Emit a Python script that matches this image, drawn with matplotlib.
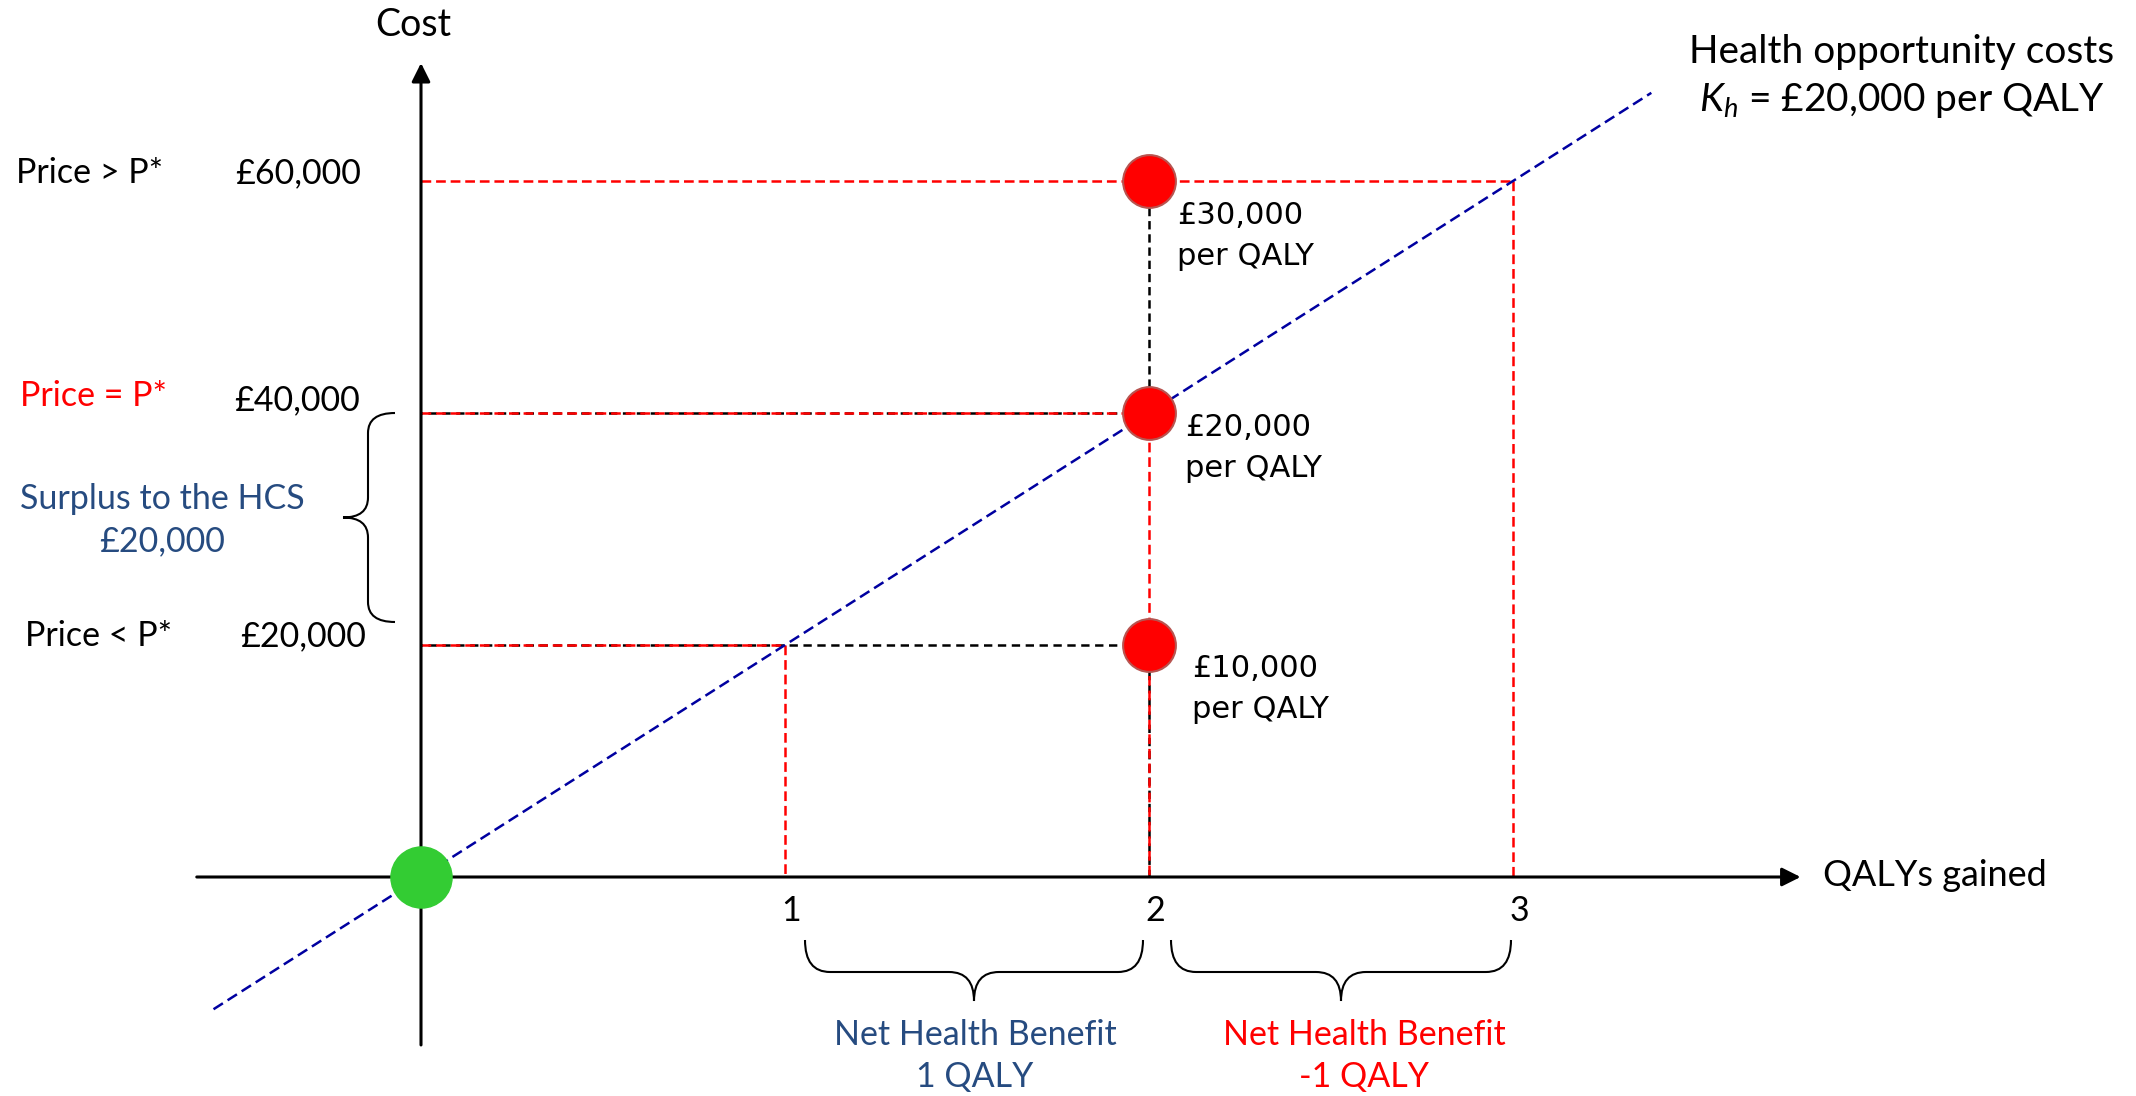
import numpy as np
import matplotlib.pyplot as plt
from matplotlib.path import Path
from matplotlib.patches import PathPatch

plt.rcParams['font.family'] = ['Lato', 'DejaVu Sans']
plt.rcParams['mathtext.fontset'] = 'custom'
plt.rcParams['mathtext.rm'] = 'Lato'
plt.rcParams['mathtext.it'] = 'Lato:italic'
plt.rcParams['lines.scale_dashes'] = False

# values
k_h = 20000                      # health opportunity cost, £ per QALY
qaly_drug = 2                    # QALYs gained by the new drug
prices = [60000, 40000, 20000]
price_labels = ['Price > P*', 'Price = P*', 'Price < P*']
price_colors = ['black', 'red', 'black']
cost_labels = ['£60,000', '£40,000', '£20,000']
icer_labels = ['£30,000\nper QALY', '£20,000\nper QALY', '£10,000\nper QALY']
qaly_ticks = [1, 2, 3]
kline_x = [-0.57, 3.38]

W, H = 2136, 1096
fig = plt.figure(figsize=(W / 100, H / 100), dpi=100)
ax = fig.add_axes([0, 0, 1, 1])
ax.set_xlim(-421 / 364, (W - 421) / 364)
ax.set_ylim(-(H - 877) / 232 * 20000, 877 / 232 * 20000)
ax.axis('off')

# overlay in pixel units for labels and braces
ov = fig.add_axes([0, 0, 1, 1])
ov.set_xlim(0, W)
ov.set_ylim(H, 0)
ov.axis('off')
ov.patch.set_alpha(0)


def to_px(x, y):
    return ov.transData.inverted().transform(ax.transData.transform((x, y)))


red_d = (0, (7, 3.5))
blk_d = (0, (6, 3.5))
lw = 1.8

# axes with arrows
ax.annotate('', xy=(3.79, 0), xytext=(-0.616, 0),
            arrowprops=dict(arrowstyle='-|>', lw=2.2, color='black', mutation_scale=28, shrinkA=0, shrinkB=0))
ax.annotate('', xy=(0, 70170), xytext=(0, -14480),
            arrowprops=dict(arrowstyle='-|>', lw=2.2, color='black', mutation_scale=28, shrinkA=0, shrinkB=0))

# threshold line
ax.plot(kline_x, [k_h * x for x in kline_x], color='#0000A0', lw=lw, linestyle=(0, (8, 4)), zorder=3)

# black guide lines
ax.plot([0, qaly_drug], [prices[1], prices[1]], color='black', lw=lw, linestyle=(5, (6, 4)), zorder=2)
ax.plot([0, qaly_drug], [prices[2], prices[2]], color='black', lw=lw, linestyle=(5, (6, 4)), zorder=2)
ax.plot([qaly_drug, qaly_drug], [prices[0], prices[1]], color='black', lw=lw, linestyle=blk_d, zorder=2)
ax.plot([qaly_drug, qaly_drug], [prices[2], 0], color='black', lw=lw, linestyle=blk_d, zorder=2)

# red guide lines: price level and QALYs it buys at k_h
for p in prices:
    q = p / k_h
    ax.plot([0, q], [p, p], color='red', lw=lw, linestyle=red_d, zorder=2.5)
    ax.plot([q, q], [p, 0], color='red', lw=lw, linestyle=red_d, zorder=2.5)

# points
ax.plot([qaly_drug] * 3, prices, 'o', ms=38, color='red', mec='#B85450', mew=1.5, zorder=5)
ax.plot([0], [0], 'o', ms=44, color='#33CC33', mec='#33CC33', zorder=5)

fs = 24.5
ov.text(413, 25, 'Cost', fontsize=27, ha='center', va='center')
label_y = [173, 396, 636]
label_x = [16, 20, 25]
cost_x = [361, 360, 366]
cost_y = [173, 400, 636]
for i in range(3):
    ov.text(label_x[i], label_y[i], price_labels[i], fontsize=fs, color=price_colors[i], ha='left', va='center')
    ov.text(cost_x[i], cost_y[i], cost_labels[i], fontsize=fs, ha='right', va='center')

ov.text(162, 520, 'Surplus to the HCS\n£20,000', fontsize=fs, color='#264B80', ha='center', va='center',
        linespacing=1.39)

ov.text(1902, 77, 'Health opportunity costs\n$K_h$ = £20,000 per QALY', fontsize=28, ha='center',
        va='center', linespacing=1.4)

ov.text(1823, 876, 'QALYs gained', fontsize=26, ha='left', va='center')

for t in qaly_ticks:
    px, _ = to_px(t, 0)
    ov.text(px + 6, 911, str(t), fontsize=fs, ha='center', va='center')

icer_x = [1177, 1185, 1192]
icer_y = [236, 448, 689]
for i in range(3):
    ov.text(icer_x[i], icer_y[i], icer_labels[i], fontsize=22, ha='left', va='center',
            family='DejaVu Sans', linespacing=1.53)

ov.text(975, 1056, 'Net Health Benefit\n1 QALY', fontsize=fs, color='#264B80', ha='center', va='center',
        linespacing=1.39)
ov.text(1364, 1056, 'Net Health Benefit\n-1 QALY', fontsize=fs, color='red', ha='center', va='center',
        linespacing=1.39)


def hbrace(x0, x1, y0, h1, h2, r):
    xm = (x0 + x1) / 2
    yb = y0 + h1
    verts = [(x0, y0), (x0, yb), (x0 + r, yb), (xm - r, yb), (xm, yb), (xm, yb + h2),
             (xm, yb), (xm + r, yb), (x1 - r, yb), (x1, yb), (x1, y0)]
    codes = [Path.MOVETO, Path.CURVE3, Path.CURVE3, Path.LINETO, Path.CURVE3, Path.CURVE3,
             Path.CURVE3, Path.CURVE3, Path.LINETO, Path.CURVE3, Path.CURVE3]
    ov.add_patch(PathPatch(Path(verts, codes), fill=False, lw=1.5, color='black'))


def vbrace(x0, y0, y1, h1, h2, r):
    ym = (y0 + y1) / 2
    xb = x0 - h1
    verts = [(x0, y0), (xb, y0), (xb, y0 + r), (xb, ym - r), (xb, ym), (xb - h2, ym),
             (xb, ym), (xb, ym + r), (xb, y1 - r), (xb, y1), (x0, y1)]
    codes = [Path.MOVETO, Path.CURVE3, Path.CURVE3, Path.LINETO, Path.CURVE3, Path.CURVE3,
             Path.CURVE3, Path.CURVE3, Path.LINETO, Path.CURVE3, Path.CURVE3]
    ov.add_patch(PathPatch(Path(verts, codes), fill=False, lw=1.5, color='black'))


p1 = to_px(1, 0)[0]
p2 = to_px(2, 0)[0]
p3 = to_px(3, 0)[0]
hbrace(p1 + 20, p2 - 6, 940, 32, 29, 25)
hbrace(p2 + 22, p3 - 2, 940, 32, 29, 25)
yt = to_px(0, 40000)[1]
vbrace(395, yt, 622, 27, 25, 20)

fig.savefig('out.png', dpi=100, facecolor='white')
